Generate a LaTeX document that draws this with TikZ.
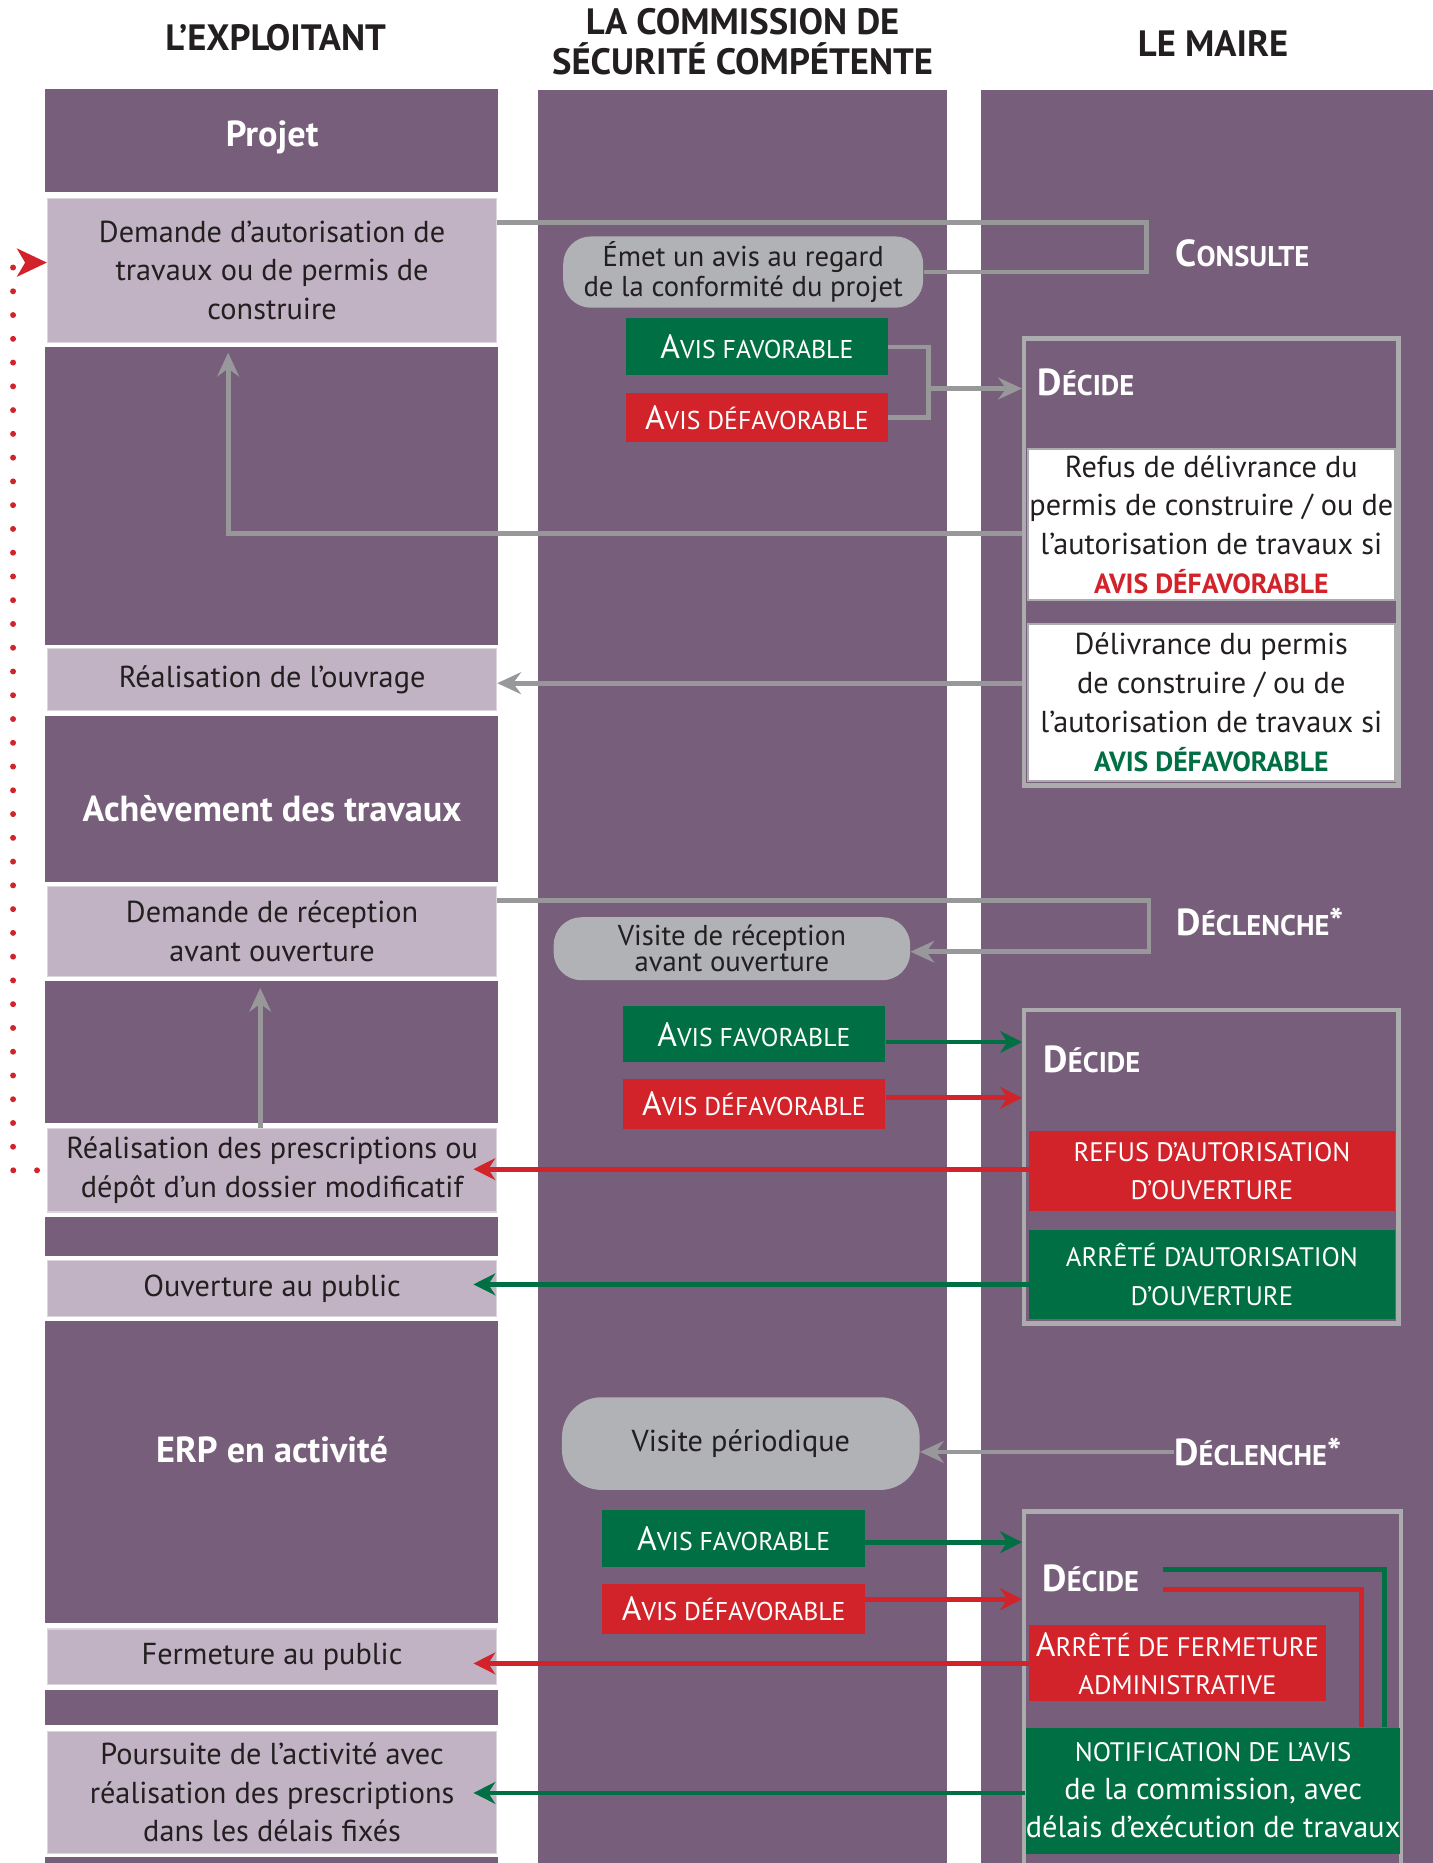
\documentclass[tikz,border=0pt]{standalone}
\usepackage{fontspec}
\setmainfont{PT Sans}
\usetikzlibrary{arrows.meta}

\definecolor{lanepurple}{RGB}{119,94,122}
\definecolor{mauve}{RGB}{193,179,195}
\definecolor{pillgray}{RGB}{177,178,182}
\definecolor{linegray}{RGB}{152,152,155}
\definecolor{framegray}{RGB}{172,172,175}
\definecolor{avisgreen}{RGB}{0,111,68}
\definecolor{avisred}{RGB}{210,35,42}
\definecolor{ink}{RGB}{35,31,32}

\newcommand\bodyfont{\fontsize{15.3}{19.5}\selectfont}
\newcommand\pcap[2]{{\fontsize{17}{18}\selectfont #1}{\fontsize{13}{18}\selectfont #2}}
\newcommand\grandcap[2]{{\fontsize{19}{22}\selectfont #1}{\fontsize{14.4}{22}\selectfont #2}}
\newcommand\capsmall[1]{{\fontsize{13.5}{18}\selectfont #1}}

\begin{document}
\begin{tikzpicture}[x=0.6pt,y=-0.6pt,
    every node/.style={inner sep=0pt, text=ink, font=\bodyfont},
    sz/.style 2 args={minimum width=#1*0.6pt, minimum height=#2*0.6pt},
    lightbox/.style={fill=mauve, draw=mauve!55!white, line width=0.6pt, align=center},
    lanetitle/.style={text=white, font=\fontsize{18.3}{20}\selectfont\bfseries},
    colhead/.style={align=center, font=\fontsize{18.5}{19.8}\selectfont\bfseries},
    pill/.style={fill=pillgray, rounded corners=14pt, align=center},
    favbox/.style={fill=avisgreen, text=white, align=center},
    defbox/.style={fill=avisred, text=white, align=center},
    frame/.style={draw=framegray, line width=2.2pt},
    whitebox/.style={fill=white, draw=framegray, line width=1pt, align=center,
      font=\fontsize{15.3}{19.6}\selectfont},
    action/.style={text=white, anchor=west, font=\bfseries},
    link/.style={draw=linegray, line width=2.4pt},
    garrow/.style={link, -{Stealth[length=12pt,width=11pt,inset=4pt]}},
    carrow/.style={line width=2.4pt, -{Stealth[length=11pt,width=11pt,inset=3.5pt]}},
    intobox/.style={shorten >=-12pt}]

  \useasboundingbox (0,0) rectangle (1206,1568);

  % the three lanes
  \fill[lanepurple] (38,75) rectangle (419,1568);
  \fill[lanepurple] (453,76) rectangle (797,1568);
  \fill[lanepurple] (826,76) rectangle (1206,1568);
  \foreach \top/\bot in {162/292, 543/603, 742/826, 945/1024, 1057/1112, 1366/1422, 1452/1563}
    \fill[white] (38,\top) rectangle (419,\bot);

  \node[colhead] (hexp) at (232,32) {L’EXPLOITANT};
  \node[colhead] (hcom) at (625,35) {LA COMMISSION DE\\SÉCURITÉ COMPÉTENTE};
  \node[colhead] (hmai) at (1021,37) {LE MAIRE};

  % exploitant
  \node[lanetitle] (projet) at (229,116) {Projet};
  \node[lightbox, sz={378}{121}] (demande) at (229,227.5) {Demande d’autorisation de\\travaux ou de permis de\\construire};
  \node[lightbox, sz={378}{52}] (ouvrage) at (229,572) {Réalisation de l’ouvrage};
  \node[lanetitle] (acheve) at (229,681) {Achèvement des travaux};
  \node[lightbox, sz={378}{76}] (reception) at (229,784) {Demande de réception\\avant ouverture};
  \node[lightbox, sz={378}{70}] (prescr) at (229,985) {Réalisation des prescriptions ou\\dépôt d’un dossier modificatif};
  \node[lightbox, sz={378}{47}] (ouverture) at (229,1084.5) {Ouverture au public};
  \node[lanetitle] (erp) at (229,1220) {ERP en activité};
  \node[lightbox, sz={378}{47}] (fermpub) at (229,1394.5) {Fermeture au public};
  \node[lightbox, sz={378}{103}] (poursuite) at (229,1508.5) {Poursuite de l’activité avec\\réalisation des prescriptions\\dans les délais fixés};

  % commission
  \node[pill, sz={303}{60}, font=\fontsize{14.5}{15}\selectfont] (emet) at (625.5,229) {Émet un avis au regard\\de la conformité du projet};
  \node[favbox, sz={220}{48}] (fav1) at (637,292) {\pcap{A}{VIS FAVORABLE}};
  \node[defbox, sz={220}{41}] (def1) at (637,351.5) {\pcap{A}{VIS DÉFAVORABLE}};
  \node[pill, sz={300}{53}, font=\fontsize{14.5}{13.2}\selectfont] (visite1) at (616,798.5) {Visite de réception\\avant ouverture};
  \node[favbox, sz={221}{47}] (fav2) at (634.5,870.5) {\pcap{A}{VIS FAVORABLE}};
  \node[defbox, sz={221}{42}] (def2) at (634.5,929) {\pcap{A}{VIS DÉFAVORABLE}};
  \node[pill, sz={301}{78}, rounded corners=20pt] (visite2) at (623.5,1215) {Visite périodique};
  \node[favbox, sz={221}{48}] (fav3) at (617.5,1295) {\pcap{A}{VIS FAVORABLE}};
  \node[defbox, sz={221}{42}] (def3) at (617.5,1354) {\pcap{A}{VIS DÉFAVORABLE}};

  % maire
  \node[action] (consulte) at (989,213) {\grandcap{C}{ONSULTE}};
  \node[frame, sz={315}{376}] (box1) at (1019.5,473) {};
  \node[action] (decide1) at (873,322) {\grandcap{D}{ÉCIDE}};
  \node[whitebox, sz={309}{127}] (refus1) at (1019.5,441.5) {Refus de délivrance du\\permis de construire / ou de\\l’autorisation de travaux si\\\textcolor{avisred}{\fontsize{14}{18}\selectfont\bfseries AVIS DÉFAVORABLE}};
  \node[whitebox, sz={309}{132}] (deliv1) at (1019.5,591) {Délivrance du permis\\de construire / ou de\\l’autorisation de travaux si\\\textcolor{avisgreen}{\fontsize{14}{18}\selectfont\bfseries AVIS DÉFAVORABLE}};

  \node[action] (decl1) at (990,776) {\grandcap{D}{ÉCLENCHE}{\fontsize{19}{22}\selectfont*}};
  \node[frame, sz={315}{264}] (box2) at (1019.5,982) {};
  \node[action] (decide2) at (878,892) {\grandcap{D}{ÉCIDE}};
  \node[defbox, sz={308}{67}, font=\fontsize{13.5}{19.2}\selectfont] (refus2) at (1020,985.5) {REFUS D’AUTORISATION\\D’OUVERTURE};
  \node[favbox, sz={308}{75}, font=\fontsize{13.5}{19.8}\selectfont] (arrete2) at (1020,1072.5) {ARRÊTÉ D’AUTORISATION\\D’OUVERTURE};

  \node[action] (decl2) at (988,1222) {\grandcap{D}{ÉCLENCHE}{\fontsize{19}{22}\selectfont*}};
  \node[frame, sz={317}{306}] (box3) at (1020.5,1425) {};
  \node[action] (decide3) at (877,1328) {\grandcap{D}{ÉCIDE}};
  \node[defbox, sz={250}{64}, font=\fontsize{13.5}{19.2}\selectfont] (fermeture) at (991,1400) {{\fontsize{17}{18}\selectfont A}\capsmall{RRÊTÉ DE FERMETURE}\\\capsmall{ADMINISTRATIVE}};
  \node[favbox, sz={310}{106}, font=\fontsize{15.3}{19.2}\selectfont] (notif) at (1021,1507) {\capsmall{NOTIFICATION DE L’AVIS}\\de la commission, avec\\délais d’exécution de travaux};
  \coordinate (dec3g) at (979,1321);
  \coordinate (dec3r) at (979,1338);
  \draw[avisgreen, line width=2.4pt] (dec3g) -| ([xshift=-8.4pt]notif.north east);
  \draw[avisred, line width=2.4pt] (dec3r) -| ([xshift=-19.8pt]notif.north east);

  % connectors
  \draw[link] (demande.east |- 0,187) -| (965,229) -- (emet.east);
  \coordinate (fork1) at (781,327);
  \draw[link] (fav1.east) -- ++(34,0) |- (def1.east);
  \draw[garrow] (fork1) -- (box1.west |- fork1);
  \draw[garrow, shorten >=5pt] (box1.west |- 0,449) -| ([xshift=-22.2pt]demande.south);
  \draw[garrow] (box1.west |- 0,575) -- (ouvrage.east |- 0,575);

  \draw[garrow] (reception.east |- 0,758) -| (967,801) -- (visite1.east |- 0,801);
  \draw[garrow, shorten >=5.4pt] (prescr.north -| 219,0) -- (reception.south -| 219,0);
  \draw[carrow, avisgreen] (fav2.east |- 0,877) -- (box2.west |- 0,877);
  \draw[carrow, avisred] (def2.east |- 0,924) -- (box2.west |- 0,924);
  \draw[carrow, avisred, intobox] (refus2.west |- 0,984) -- (prescr.east |- 0,984);
  \draw[carrow, avisgreen, intobox] (arrete2.west |- 0,1081) -- (ouverture.east |- 0,1081);

  \draw[garrow] (decl2.west) -- (visite2.east |- decl2.west);
  \draw[carrow, avisgreen] (fav3.east |- 0,1298) -- (box3.west |- 0,1298);
  \draw[carrow, avisred] (def3.east |- 0,1346) -- (box3.west |- 0,1346);
  \draw[carrow, avisred, intobox] (fermeture.west) -- (fermpub.east |- fermeture.west);
  \draw[carrow, avisgreen, intobox] (notif.west |- 0,1509) -- (poursuite.east |- 0,1509);

  % back to the start
  \draw[avisred, line width=3pt, line cap=round, dash pattern=on 0pt off 12pt,
    -{Stealth[length=15pt,width=14pt,inset=4pt]}]
    ([xshift=-5pt]prescr.west) -| (11,221) -- (demande.west |- 0,221);
\end{tikzpicture}
\end{document}
